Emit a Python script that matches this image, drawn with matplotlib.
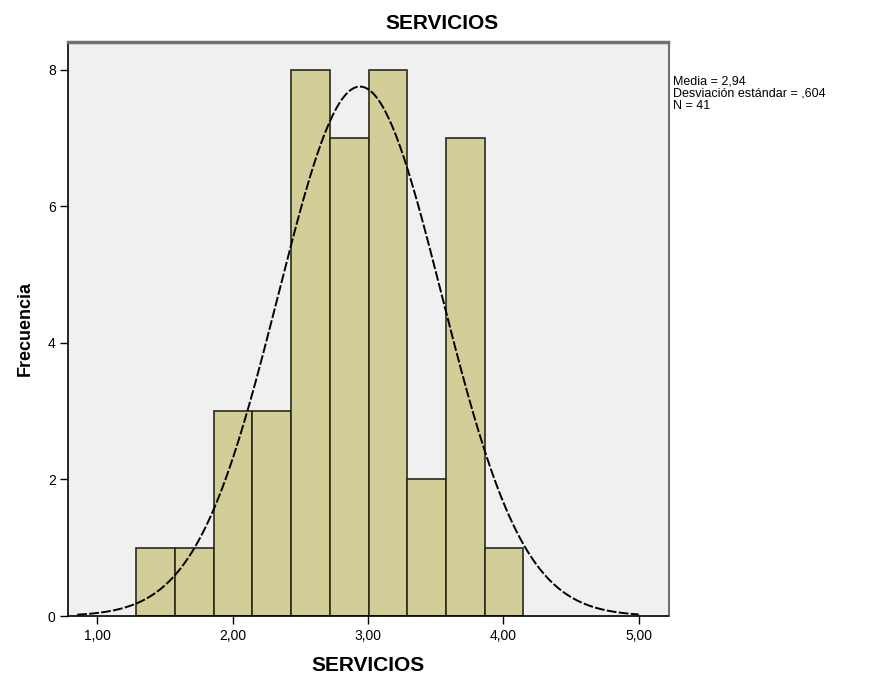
import numpy as np
import matplotlib
matplotlib.use("Agg")
import matplotlib.pyplot as plt

plt.rcParams['font.family'] = ['Liberation Sans', 'DejaVu Sans']

# Datos del histograma
bin_edges = [1.285, 1.571, 1.858, 2.144, 2.430, 2.717, 3.003, 3.289, 3.575, 3.862, 4.148]
frecuencias = [1, 1, 3, 3, 8, 7, 8, 2, 7, 1]
media = 2.94
desv = 0.604
n = 41
x_ticks = [1, 2, 3, 4, 5]
x_labels = ["1,00", "2,00", "3,00", "4,00", "5,00"]
y_ticks = [0, 2, 4, 6, 8]

fig = plt.figure(figsize=(8.75, 6.84), dpi=100)
ax = fig.add_axes([0.078, 0.0994, 0.686, 0.8396])
ax.set_facecolor('#f0f0f0')

edges = np.array(bin_edges)
anchos = np.diff(edges)
ax.bar(edges[:-1], frecuencias, width=anchos, align='edge',
       color='#d3ce97', edgecolor='#2a2a1a', linewidth=1.2, zorder=2)

# --- Curva normal ---
w = anchos.mean()
xs = np.linspace(0.85, 5.0, 300)
ys = n * w * np.exp(-0.5 * ((xs - media) / desv) ** 2) / (desv * np.sqrt(2 * np.pi))
ax.plot(xs, ys, color='black', linewidth=1.4, linestyle=(0, (5, 1.2)), zorder=3)

ax.set_xlim(0.784, 5.22)
ax.set_ylim(0, 8.41)
ax.set_xticks(x_ticks)
ax.set_xticklabels(x_labels)
ax.set_yticks(y_ticks)
ax.tick_params(direction='out', length=6, width=1, labelsize=10, pad=3)

for s in ['left', 'bottom']:
    ax.spines[s].set_linewidth(1.2)
    ax.spines[s].set_color('black')
ax.spines['right'].set_color('#707070')
ax.spines['right'].set_linewidth(1.5)
ax.spines['top'].set_color('#707070')
ax.spines['top'].set_linewidth(2.5)

ax.set_xlabel("SERVICIOS", fontsize=15, fontweight='bold', labelpad=10)
ax.set_ylabel("Frecuencia", fontsize=13, fontweight='bold', labelpad=10)
fig.text(0.505, 0.966, "SERVICIOS", ha='center', va='center',
         fontsize=15, fontweight='bold')

fig.text(0.769, 0.89,
         "Media = 2,94\nDesviación estándar = ,604\nN = 41",
         ha='left', va='top', fontsize=9, linespacing=1.05)

fig.savefig("out.png", dpi=100, facecolor='white')
